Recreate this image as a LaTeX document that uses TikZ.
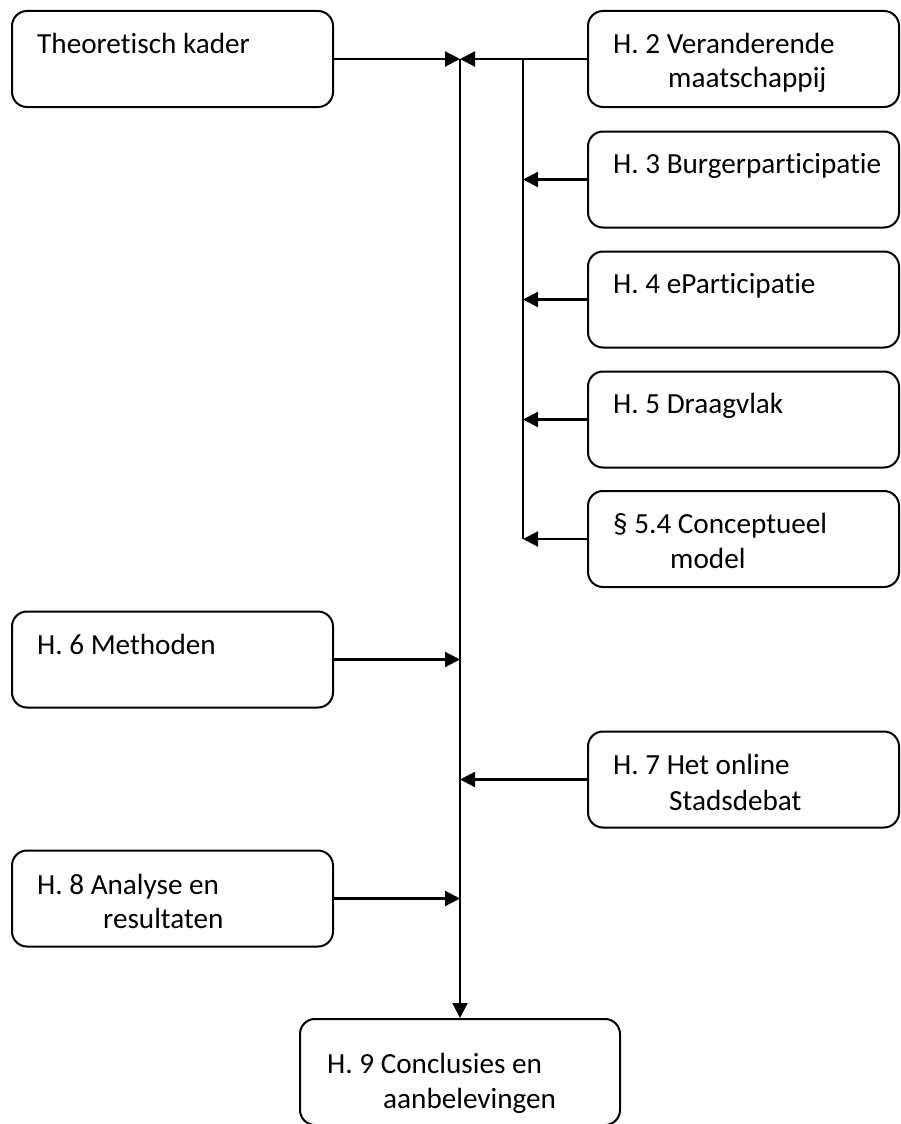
\documentclass[tikz,border=0pt]{standalone}
\usepackage{fontspec}
\setmainfont[Ligatures={NoCommon}]{Carlito}
\usetikzlibrary{arrows.meta}
\tikzset{
  box/.style={draw, line width=2pt, rounded corners=15pt, minimum height=96pt, inner sep=0pt},
  lbl/.style={anchor=base west, inner sep=0pt, font=\fontsize{29.2}{35}\selectfont},
  conn/.style={line width=2.2pt},
  arr/.style={line width=2.2pt, -{Triangle[length=15pt,width=15pt]}}
}
\begin{document}
\begin{tikzpicture}[x=1pt,y=-1pt]
\useasboundingbox (0,0) rectangle (900,1124);
% boxes
\node[box, minimum width=321pt] (tk) at (172.5,59) {};
\node[box, minimum width=311pt] (h2) at (743.5,59) {};
\node[box, minimum width=311pt] (h3) at (743.5,179.5) {};
\node[box, minimum width=311pt] (h4) at (743.5,299.5) {};
\node[box, minimum width=311pt] (h5) at (743.5,419.5) {};
\node[box, minimum width=311pt] (p54) at (743.5,539) {};
\node[box, minimum width=321pt] (h6) at (172.5,659.5) {};
\node[box, minimum width=311pt] (h7) at (743.5,779.5) {};
\node[box, minimum width=321pt] (h8) at (172.5,898.5) {};
\node[box, minimum width=320pt, minimum height=106pt] (h9) at (460,1072) {};
% labels
\node[lbl] (ttk) at (37,53) {Theoretisch kader};
\node[lbl] (th2a) at (613,53) {H. 2 Veranderende};
\node[lbl] (th2b) at (668,88) {maatschappij};
\node[lbl] (th3) at (613,173) {H. 3 Burgerparticipatie};
\node[lbl] (th4) at (613,293) {H. 4 eParticipatie};
\node[lbl] (th5) at (613,413) {H. 5 Draagvlak};
\node[lbl] (tp54a) at (613,533) {§ 5.4 Conceptueel};
\node[lbl] (tp54b) at (670,568) {model};
\node[lbl] (th6) at (37,654) {H. 6 Methoden};
\node[lbl] (th7a) at (613,774) {H. 7 Het online};
\node[lbl] (th7b) at (669,810) {Stadsdebat};
\node[lbl] (th8a) at (37,894) {H. 8 Analyse en};
\node[lbl] (th8b) at (103,928) {resultaten};
\node[lbl] (th9a) at (327,1073) {H. 9 Conclusies en};
\node[lbl] (th9b) at (383,1108) {aanbelevingen};
% connector points
\coordinate (top) at (460,59);
\coordinate (br) at (523,59);
\coordinate (brb) at (523,539);
% connectors
\draw[arr] (tk.east) -- (top);
\draw[arr] (h2.west) -- (top);
\draw[arr] (top) -- (h9.north);
\draw[conn] (br) -- (brb);
\draw[arr] (h3.west) -- (h3.west -| br);
\draw[arr] (h4.west) -- (h4.west -| br);
\draw[arr] (h5.west) -- (h5.west -| br);
\draw[arr] (p54.west) -- (p54.west -| br);
\draw[arr] (h6.east) -- (h6.east -| top);
\draw[arr] (h7.west) -- (h7.west -| top);
\draw[arr] (h8.east) -- (h8.east -| top);
\end{tikzpicture}
\end{document}
